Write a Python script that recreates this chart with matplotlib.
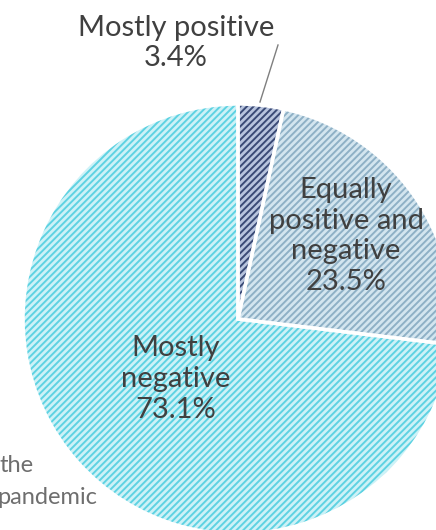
import matplotlib.pyplot as plt

# data
labels = ['Mostly positive', 'Equally\npositive and\nnegative', 'Mostly\nnegative']
shares = [3.4, 23.5, 73.1]
face_cols = ['#b8c4de', '#d3e5ef', '#cdf2f7']
hatch_cols = ['#3a4a76', '#8eb0c6', '#5ed2e2']
side_text = ['the', 'pandemic']

W, H = 436, 530
plt.rcParams['font.family'] = ['Lato', 'DejaVu Sans']
plt.rcParams['hatch.linewidth'] = 1.4

fig = plt.figure(figsize=(W / 100, H / 100), dpi=100)
ax = fig.add_axes([0, 0, 1, 1])

cx, cy, r = 238, H - 319, 215
explode = [0, 0.014, 0]

# hatched fill
wedges, _ = ax.pie(shares, startangle=90, counterclock=False, center=(cx, cy),
                   radius=r, explode=explode, wedgeprops=dict(linewidth=0))
for w, fc, hc in zip(wedges, face_cols, hatch_cols):
    w.set_facecolor(fc)
    w.set_edgecolor(hc)
    w.set_hatch('/////')

# white separators
ax.pie(shares, startangle=90, counterclock=False, center=(cx, cy), radius=r,
       explode=explode, colors=['none'] * 3,
       wedgeprops=dict(linewidth=2.5, edgecolor='white'))

ax.set_xlim(0, W)
ax.set_ylim(0, H)
ax.set_aspect('equal')
ax.axis('off')

txt = '#404040'
fs = 21
ax.text(176, H - 43, f'{labels[0]}\n{shares[0]}%', ha='center', va='center',
        fontsize=fs, color=txt, linespacing=1.22)
ax.plot([260, 278], [H - 102, H - 45], color='#7f7f7f', lw=1)
ax.text(346, H - 236, f'{labels[1]}\n{shares[1]}%', ha='center', va='center',
        fontsize=fs, color=txt, linespacing=1.22)
ax.text(176, H - 379, f'{labels[2]}\n{shares[2]}%', ha='center', va='center',
        fontsize=fs, color=txt, linespacing=1.22)

ax.text(0, H - 465, side_text[0], ha='left', va='center', fontsize=17, color='#6e6e6e')
ax.text(-3, H - 497, side_text[1], ha='left', va='center', fontsize=17, color='#6e6e6e')

fig.savefig('out.png', dpi=100)
